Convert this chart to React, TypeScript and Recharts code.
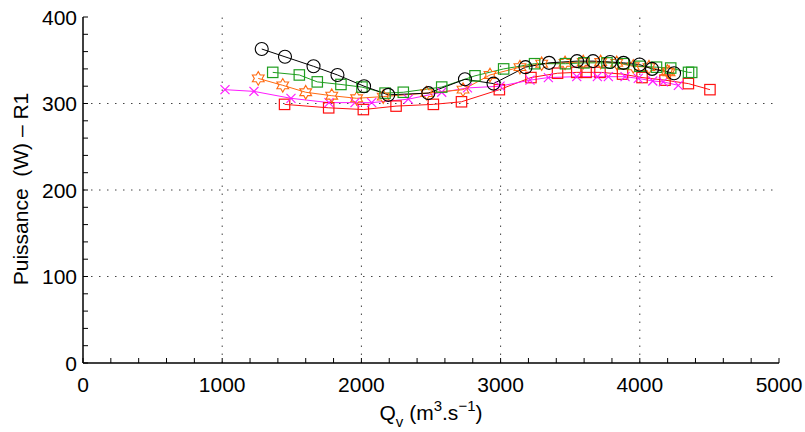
import React from 'react';
import { LineChart, Line, XAxis, YAxis, ReferenceLine } from 'recharts';

const xTicks = [0, 200, 400, 600, 800, 1000, 1200, 1400, 1600, 1800, 2000, 2200, 2400, 2600, 2800, 3000, 3200, 3400, 3600, 3800, 4000, 4200, 4400, 4600, 4800, 5000];
const yTicks = [0, 20, 40, 60, 80, 100, 120, 140, 160, 180, 200, 220, 240, 260, 280, 300, 320, 340, 360, 380, 400];
const xGrid = [1000, 2000, 3000, 4000];
const yGrid = [100, 200, 300];

const qBlack = [1284, 1451, 1656, 1828, 2019, 2193, 2481, 2744, 2949, 3179, 3348, 3549, 3664, 3786, 3883, 3998, 4088, 4246];
const pBlack = [363, 354, 343, 333, 320, 310, 312, 328, 323, 342, 347, 349, 349, 348, 347, 345, 340, 335];

const qGreen = [1363, 1554, 1683, 1853, 2004, 2170, 2301, 2577, 2816, 3022, 3244, 3466, 3599, 3764, 3883, 4001, 4120, 4222, 4350, 4373];
const pGreen = [336, 333, 325, 322, 319, 312, 313, 319, 332, 340, 346, 346, 347, 347, 346, 343, 342, 341, 336, 336];

const qOrange = [1259, 1435, 1600, 1787, 1966, 2157, 2469, 2730, 2924, 3139, 3295, 3463, 3594, 3719, 3834, 3953, 4066, 4198, 4210];
const pOrange = [329, 321, 313, 309, 306, 308, 312, 316, 333, 342, 346, 347, 348, 348, 347, 343, 342, 337, 336];

const qMagenta = [1020, 1228, 1494, 1767, 1954, 2074, 2337, 2577, 2762, 2996, 3211, 3343, 3547, 3695, 3774, 3894, 3989, 4093, 4169, 4277];
const pMagenta = [316, 314, 306, 301, 301, 301, 305, 313, 318, 320, 327, 330, 331, 331, 331, 331, 329, 326, 325, 321];

const qRed = [1448, 1765, 2014, 2249, 2517, 2719, 2991, 3218, 3409, 3547, 3614, 3714, 3876, 4016, 4181, 4349, 4504];
const pRed = [299, 295, 293, 297, 299, 302, 316, 330, 335, 336, 336, 336, 334, 330, 327, 323, 316];

const zip = (q: number[], p: number[]) => q.map((v, i) => ({ q: v, p: p[i] }));

const BLACK = '#000000';
const GREEN = '#1f9e1f';
const ORANGE = '#ff6a10';
const MAGENTA = '#ff1aff';
const RED = '#ff1010';

const FONT = '"Liberation Sans", Arial, Helvetica, sans-serif';

const circleDot = (props: any) => {
  const { cx, cy, index } = props;
  return <circle key={`c${index}`} cx={cx} cy={cy} r={6.5} fill="none" stroke={BLACK} strokeWidth={1.1} />;
};

const squareDot = (color: string) => (props: any) => {
  const { cx, cy, index } = props;
  const s = 5.2;
  return <rect key={`s${index}`} x={cx - s} y={cy - s} width={2 * s} height={2 * s} fill="none" stroke={color} strokeWidth={1.2} />;
};

const starDot = (props: any) => {
  const { cx, cy, index } = props;
  const R = 6.8;
  const r = R / Math.sqrt(3);
  const pts: string[] = [];
  for (let k = 0; k < 12; k++) {
    const a = -Math.PI / 2 + (k * Math.PI) / 6;
    const rad = k % 2 === 0 ? R : r;
    pts.push(`${cx + rad * Math.cos(a)},${cy + rad * Math.sin(a)}`);
  }
  return <polygon key={`h${index}`} points={pts.join(' ')} fill="none" stroke={ORANGE} strokeWidth={1.1} />;
};

const crossDot = (props: any) => {
  const { cx, cy, index } = props;
  const s = 4.5;
  return (
    <g key={`x${index}`}>
      <line x1={cx - s} y1={cy - s} x2={cx + s} y2={cy + s} stroke={MAGENTA} strokeWidth={1.2} />
      <line x1={cx - s} y1={cy + s} x2={cx + s} y2={cy - s} stroke={MAGENTA} strokeWidth={1.2} />
    </g>
  );
};

const BottomTick = (props: any) => {
  const { x, y, payload } = props;
  const v = payload.value;
  const major = v % 1000 === 0;
  return (
    <g>
      <line x1={x} x2={x} y1={y} y2={y - 5} stroke="#000" strokeWidth={1} />
      {major && (
        <text x={x} y={y + 29} textAnchor="middle" fontSize={21} fontFamily={FONT} fill="#000">
          {v}
        </text>
      )}
    </g>
  );
};

const TopTick = (props: any) => {
  const { x, y } = props;
  return <line x1={x} x2={x} y1={y} y2={y + 5} stroke="#000" strokeWidth={1} />;
};

const LeftTick = (props: any) => {
  const { x, y, payload } = props;
  const v = payload.value;
  const major = v % 100 === 0;
  return (
    <g>
      <line x1={x} x2={x + 5} y1={y} y2={y} stroke="#000" strokeWidth={1} />
      {major && (
        <text x={x - 6} y={y + 7.5} textAnchor="end" fontSize={21} fontFamily={FONT} fill="#000">
          {v}
        </text>
      )}
    </g>
  );
};

const RightTick = (props: any) => {
  const { x, y } = props;
  return <line x1={x} x2={x - 5} y1={y} y2={y} stroke="#000" strokeWidth={1} />;
};

const XLabel = () => (
  <text x={431} y={420} textAnchor="middle" fontSize={21} fontFamily={FONT} fill="#000">
    <tspan>Q</tspan>
    <tspan dy={7} fontSize={15}>v</tspan>
    <tspan dy={-7}>{'\u00A0(m'}</tspan>
    <tspan dy={-9} fontSize={15}>3</tspan>
    <tspan dy={9}>.s</tspan>
    <tspan dy={-9} fontSize={15}>{'\u22121'}</tspan>
    <tspan dy={9}>)</tspan>
  </text>
);

const YLabel = () => (
  <text
    x={28}
    y={189}
    transform="rotate(-90 28 189)"
    textAnchor="middle"
    fontSize={21}
    fontFamily={FONT}
    fill="#000"
  >
    {'Puissance\u00A0\u00A0(W) \u2013 R1'}
  </text>
);

export default function App() {
  return (
    <div style={{ position: 'absolute', left: 0, top: 0, width: 805, height: 432, background: '#fff' }}>
      <LineChart width={805} height={432} margin={{ top: 17, right: 26, left: 0, bottom: 0 }}>
        <XAxis
          type="number"
          dataKey="q"
          domain={[0, 5000]}
          ticks={xTicks}
          interval={0}
          height={69}
          tickSize={0}
          tickMargin={0}
          tickLine={false}
          axisLine={{ stroke: '#000', strokeWidth: 1.5 }}
          tick={<BottomTick />}
          label={{ content: () => <XLabel /> }}
          allowDataOverflow
        />
        <XAxis
          xAxisId="top"
          orientation="top"
          type="number"
          domain={[0, 5000]}
          ticks={xTicks}
          interval={0}
          height={0}
          tickSize={0}
          tickMargin={0}
          tickLine={false}
          axisLine={{ stroke: '#000', strokeWidth: 1.5 }}
          tick={<TopTick />}
          allowDataOverflow
        />
        <YAxis
          type="number"
          domain={[0, 400]}
          ticks={yTicks}
          interval={0}
          width={83}
          tickSize={0}
          tickMargin={0}
          tickLine={false}
          axisLine={{ stroke: '#000', strokeWidth: 1.5 }}
          tick={<LeftTick />}
          label={{ content: () => <YLabel /> }}
          allowDataOverflow
        />
        <YAxis
          yAxisId="right"
          orientation="right"
          type="number"
          domain={[0, 400]}
          ticks={yTicks}
          interval={0}
          width={0}
          tickSize={0}
          tickMargin={0}
          tickLine={false}
          axisLine={{ stroke: '#000', strokeWidth: 1.5 }}
          tick={<RightTick />}
          allowDataOverflow
        />
        {xGrid.map((v) => (
          <ReferenceLine key={`gx${v}`} x={v} stroke="#444" strokeWidth={1} strokeDasharray="1.5 6.5" />
        ))}
        {yGrid.map((v) => (
          <ReferenceLine key={`gy${v}`} y={v} stroke="#444" strokeWidth={1} strokeDasharray="1.5 6.5" />
        ))}
        <Line data={zip(qRed, pRed)} dataKey="p" stroke={RED} strokeWidth={1} dot={squareDot(RED)} isAnimationActive={false} />
        <Line data={zip(qMagenta, pMagenta)} dataKey="p" stroke={MAGENTA} strokeWidth={1} dot={crossDot} isAnimationActive={false} />
        <Line data={zip(qOrange, pOrange)} dataKey="p" stroke={ORANGE} strokeWidth={1} dot={starDot} isAnimationActive={false} />
        <Line data={zip(qGreen, pGreen)} dataKey="p" stroke={GREEN} strokeWidth={1} dot={squareDot(GREEN)} isAnimationActive={false} />
        <Line data={zip(qBlack, pBlack)} dataKey="p" stroke={BLACK} strokeWidth={1} dot={circleDot} isAnimationActive={false} />
      </LineChart>
    </div>
  );
}
